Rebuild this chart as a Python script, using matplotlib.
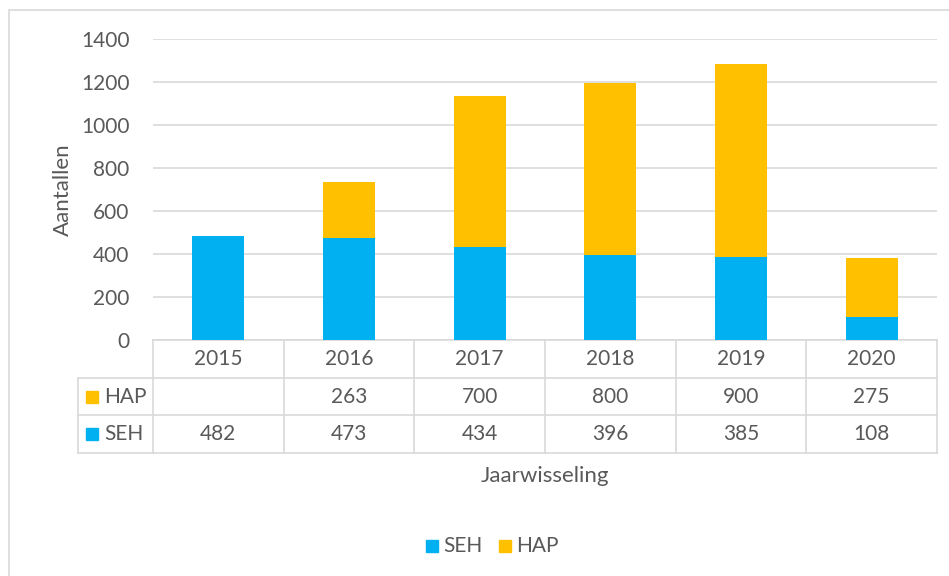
import matplotlib.pyplot as plt
from matplotlib.patches import Rectangle
import matplotlib.transforms as mtransforms

plt.rcParams['font.family'] = ['Lato', 'DejaVu Sans']

years = ['2015', '2016', '2017', '2018', '2019', '2020']
seh = [482, 473, 434, 396, 385, 108]
hap = [0, 263, 700, 800, 900, 275]
hap_labels = ['', '263', '700', '800', '900', '275']

seh_color = '#00B0F0'
hap_color = '#FFC000'
text_color = '#595959'
grid_color = '#D9D9D9'

W, H = 949, 576
fig = plt.figure(figsize=(W / 100, H / 100), dpi=100)


def square(px, py, col, size=12):
    # small legend key, px/py = top-left corner in pixels
    fig.patches.append(Rectangle((px / W, 1 - (py + size) / H), size / W, size / H,
                                 transform=fig.transFigure, color=col))


# outer chart border
fig.patches.append(Rectangle((9 / W, -0.01), 1.0, 1 - 10 / H + 0.01,
                             transform=fig.transFigure, fill=False,
                             edgecolor=grid_color, linewidth=1.2))

left, right, top, bottom = 153, 937, 39, 340
ax = fig.add_axes([left / W, 1 - bottom / H, (right - left) / W, (bottom - top) / H])

x = range(len(years))
ax.bar(x, seh, width=0.4, color=seh_color, zorder=3)
ax.bar(x, hap, width=0.4, bottom=seh, color=hap_color, zorder=3)

ax.set_xlim(-0.5, len(years) - 0.5)
ax.set_ylim(0, 1400)
ax.set_yticks(range(0, 1401, 200))
ax.set_xticks([])
ax.grid(axis='y', color=grid_color, linewidth=1.2, zorder=0)
for s in ax.spines.values():
    s.set_visible(False)
ax.tick_params(axis='y', length=0, labelsize=15, labelcolor=text_color, pad=17)
ax.set_ylabel('Aantallen', fontsize=16, color=text_color, labelpad=6)

# data table below the plot
trans = mtransforms.blended_transform_factory(ax.transData, ax.transAxes)
row_h = 37.7 / (bottom - top)
unit = (right - left) / len(years)
x_lab = -0.5 - (left - 78) / unit
line_kw = dict(color=grid_color, linewidth=1.2, transform=trans, clip_on=False)

ax.plot([-0.5, len(years) - 0.5], [0, 0], **line_kw)
for k in range(1, 4):
    ax.plot([x_lab, len(years) - 0.5], [-k * row_h, -k * row_h], **line_kw)
for i in range(len(years) + 1):
    ax.plot([i - 0.5, i - 0.5], [0, -3 * row_h], **line_kw)
ax.plot([x_lab, x_lab], [-row_h, -3 * row_h], **line_kw)

txt_kw = dict(transform=trans, fontsize=15, color=text_color, ha='center', va='center')
for i, yr in enumerate(years):
    ax.text(i, -0.5 * row_h, yr, **txt_kw)
    ax.text(i, -1.5 * row_h, hap_labels[i], **txt_kw)
    ax.text(i, -2.5 * row_h, str(seh[i]), **txt_kw)

for k, (name, col) in enumerate([('HAP', hap_color), ('SEH', seh_color)]):
    yc = 340 + (1.5 + k) * 37.7
    square(86, yc - 6, col)
    fig.text(104 / W, 1 - yc / H, name, fontsize=15, color=text_color,
             ha='left', va='center')

fig.text((left + right) / 2 / W, 1 - 476 / H, 'Jaarwisseling', fontsize=16,
         color=text_color, ha='center', va='center')

# legend
for name, col, xp in [('SEH', seh_color, 426), ('HAP', hap_color, 499)]:
    square(xp, 540, col)
    fig.text((xp + 17) / W, 1 - 546 / H, name, fontsize=15, color=text_color,
             ha='left', va='center')

fig.savefig('out.png', dpi=100)
